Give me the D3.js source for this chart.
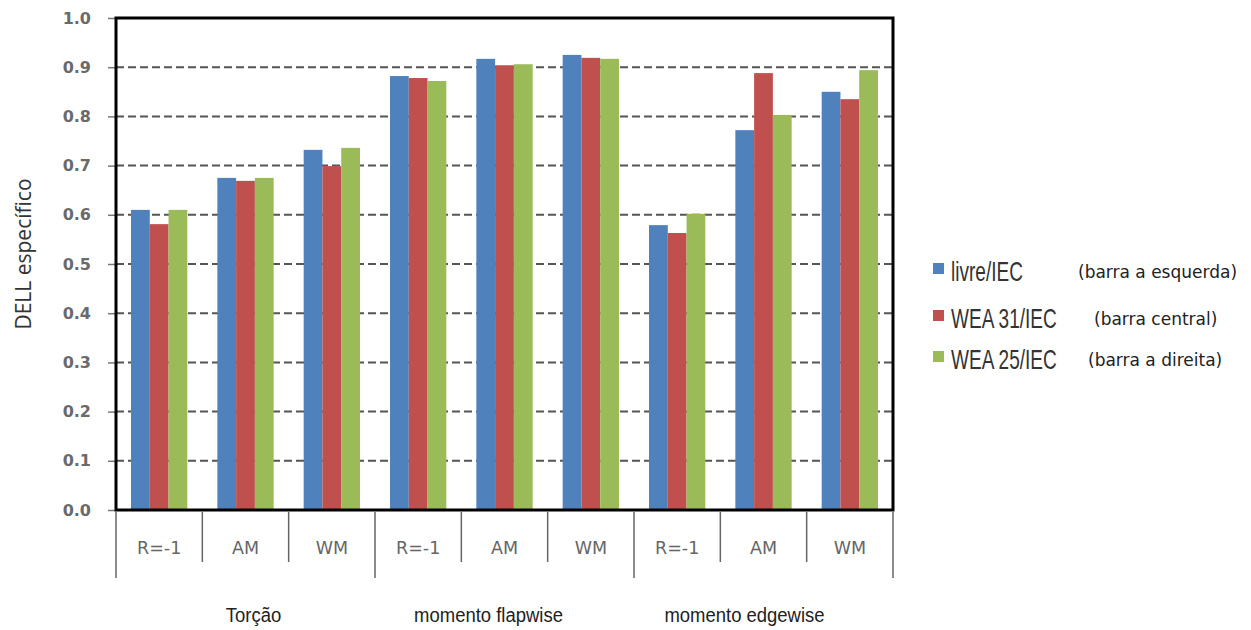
<!DOCTYPE html>
<html><head><meta charset="utf-8">
<script src="https://cdn.jsdelivr.net/npm/d3@7"></script>
<style>body{margin:0;background:#fff;}svg{display:block;}</style>
</head><body><svg id="c" width="1251" height="630"></svg>
<script>
const groups = ["Torção", "momento flapwise", "momento edgewise"];
const subcats = ["R=-1", "AM", "WM"];
const seriesNames = ["livre/IEC", "WEA 31/IEC", "WEA 25/IEC"];
const seriesNotes = ["(barra a esquerda)", "(barra central)", "(barra a direita)"];
const livre = [0.610, 0.675, 0.732, 0.882, 0.917, 0.925, 0.579, 0.772, 0.850];
const wea31 = [0.581, 0.669, 0.699, 0.878, 0.904, 0.919, 0.563, 0.888, 0.835];
const wea25 = [0.610, 0.675, 0.736, 0.872, 0.906, 0.917, 0.602, 0.803, 0.894];
const yTicks = [0, 0.1, 0.2, 0.3, 0.4, 0.5, 0.6, 0.7, 0.8, 0.9, 1.0];

const colors = ["#4F81BD", "#C0504D", "#9BBB59"];
const series = [livre, wea31, wea25];
const cats = [];
groups.forEach((g, gi) => subcats.forEach((s, si) => cats.push({key: gi + "_" + si, label: s, g: gi})));

const L = 116, R = 893, T = 18, B = 510;
const svg = d3.select("#c");
const x = d3.scaleBand().domain(cats.map(c => c.key)).range([L, R]).paddingInner(0).paddingOuter(0);
const y = d3.scaleLinear().domain([0, 1]).range([B, T]);
const xs = d3.scaleBand().domain([0, 1, 2]).range([0, x.bandwidth()]).paddingInner(0).paddingOuter(0.8);

// gridlines
svg.append("g").selectAll("line").data(yTicks.filter(v => v > 0 && v < 1)).join("line")
  .attr("x1", L).attr("x2", R).attr("y1", d => y(d)).attr("y2", d => y(d))
  .attr("stroke", "#555").attr("stroke-width", 2).attr("stroke-dasharray", "8,4");

// bars
const bg = svg.append("g");
series.forEach((arr, si) => {
  bg.selectAll(null).data(arr).join("rect")
    .attr("x", (d, i) => x(cats[i].key) + xs(si))
    .attr("y", d => y(d)).attr("width", xs.bandwidth()).attr("height", d => B - y(d))
    .attr("fill", colors[si]);
});

// y axis
const ya = d3.axisLeft(y).tickValues(yTicks).tickFormat(d3.format(".1f")).tickSize(8).tickPadding(17);
const yg = svg.append("g").attr("transform", `translate(${L},0)`).call(ya);
yg.select(".domain").remove();
yg.selectAll(".tick line").attr("stroke", "#777").attr("stroke-width", 1.5);
yg.selectAll(".tick text").attr("fill", "#6a6a6a").style("font-family", "DejaVu Sans").style("font-size", "16px").style("font-weight", "bold");

// frame
svg.append("rect").attr("x", L).attr("y", T).attr("width", R - L).attr("height", B - T)
  .attr("fill", "none").attr("stroke", "#000").attr("stroke-width", 3);

// category separators below axis
const bounds = cats.map((c, i) => ({x: x(c.key), long: i % 3 === 0})).concat([{x: R, long: true}]);
svg.append("g").selectAll("line").data(bounds).join("line")
  .attr("x1", d => d.x).attr("x2", d => d.x).attr("y1", B + 2).attr("y2", d => d.long ? 578 : 562)
  .attr("stroke", "#666").attr("stroke-width", 1.5);

// category labels
svg.append("g").selectAll("text").data(cats).join("text")
  .attr("x", d => x(d.key) + x.bandwidth() / 2).attr("y", 554)
  .attr("text-anchor", "middle").attr("fill", "#666")
  .style("font-family", "DejaVu Sans").style("font-size", "17.5px").text(d => d.label);

// group labels
const groupDx = [8, -16, -19];
svg.append("g").selectAll("g").data(groups).join("g")
  .attr("transform", (d, i) => `translate(${x(i + "_1") + x.bandwidth() / 2 + groupDx[i]},622) scale(0.88,1)`)
  .append("text").attr("text-anchor", "middle").attr("fill", "#222")
  .style("font-family", "Liberation Sans").style("font-size", "21px").text(d => d);

// y title
svg.append("text").attr("transform", "translate(31,254) rotate(-90)")
  .attr("text-anchor", "middle").attr("fill", "#333")
  .style("font-family", "Open Sans").style("font-size", "21px").text("DELL específico");

// legend
const lg = svg.append("g");
const ly = [271, 318, 359];
seriesNames.forEach((n, i) => {
  lg.append("rect").attr("x", 933).attr("y", ly[i] - 8).attr("width", 11).attr("height", 11).attr("fill", colors[i]);
  lg.append("g").attr("transform", `translate(951,${ly[i] + 10}) scale(0.68,1)`)
    .append("text").attr("fill", "#333")
    .style("font-family", "Liberation Sans").style("font-size", "28px").text(n);
});
const noteX = [1078, 1094, 1088];
seriesNotes.forEach((n, i) => {
  lg.append("text").attr("x", noteX[i]).attr("y", ly[i] + 7).attr("fill", "#222")
    .style("font-family", "DejaVu Sans").style("font-size", "17px").text(n);
});
</script></body></html>
